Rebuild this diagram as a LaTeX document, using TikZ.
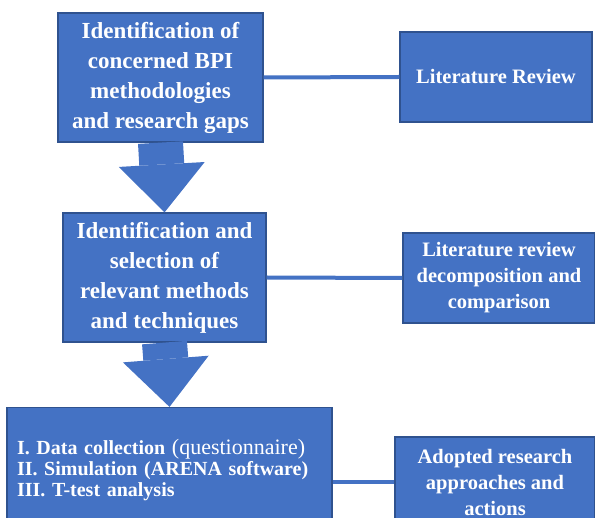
\documentclass[tikz,border=0pt]{standalone}
\usepackage{fontspec}
\setmainfont{Liberation Serif}
\usetikzlibrary{arrows.meta}
\definecolor{boxblue}{HTML}{4472C4}
\definecolor{edgeblue}{HTML}{2F528F}
\begin{document}
\begin{tikzpicture}[x=1pt, y=-1pt,
          box/.style ={draw=edgeblue, line width=1.2pt, fill=boxblue, text=white,
                       font=\bfseries, inner sep=2pt},
          main/.style ={box, font=\bfseries\fontsize{23}{30}\selectfont, align=center},
          side/.style ={box, font=\bfseries\fontsize{20.5}{26}\selectfont, align=center,
                        minimum height=90pt},
          link/.style ={draw=boxblue, line width=4pt},
          bigarrow/.style ={draw=boxblue, line width=45pt,
                            -{Triangle[width=86pt, length=48pt, line width=0pt]}}
          ]
\useasboundingbox (0,0) rectangle (595,518);

\node[main, minimum width=205pt, minimum height=129pt] (ident) at (160.5,77.5)
  {Identification of\\concerned BPI\\methodologies\\and research gaps};
\node[main, minimum width=203pt, minimum height=129pt] (select) at (164.5,277.5)
  {Identification and\\selection of\\relevant methods\\and techniques};
\node[box, minimum width=325pt, minimum height=125pt, align=left,
      font=\bfseries\fontsize{20}{21}\selectfont, text width=305pt] (steps) at (169.5,470)
  {I. Data collection {\mdseries\fontsize{22}{21}\selectfont(questionnaire)}\\
   II. Simulation (ARENA software)\\
   III. T-test analysis};

\node[side, minimum width=192pt] (litrev) at (496,77) {Literature Review};
\node[side, minimum width=192pt] (decomp) at (499,278)
  {Literature review\\decomposition and\\comparison};
\node[side, minimum width=200pt] (adopt) at (495,482)
  {Adopted research\\approaches and\\actions};

\draw[bigarrow] (ident.south) -- (select.north);
\draw[bigarrow] (select.south) -- (steps.north);

\draw[link] (ident.east) -- (litrev.west);
\draw[link] (select.east) -- (decomp.west);
\draw[link] (steps.east |- adopt.west) -- (adopt.west);
\end{tikzpicture}
\end{document}
